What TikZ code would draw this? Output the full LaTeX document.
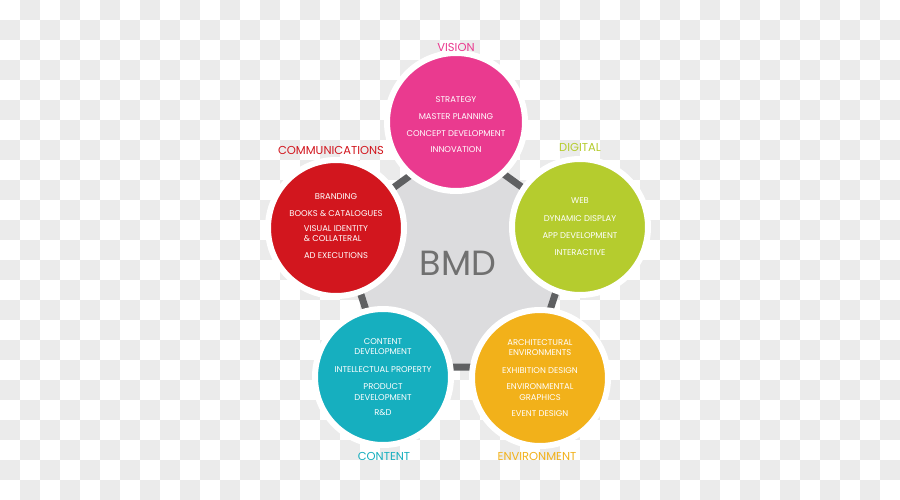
\documentclass[tikz,border=0pt]{standalone}
\usepackage{fontspec}
\setmainfont{Poppins}
\definecolor{checkgray}{HTML}{EBEBEB}
\definecolor{pentfill}{HTML}{DCDCDE}
\definecolor{edgegray}{HTML}{5F6062}
\definecolor{cpink}{HTML}{EA3A8F}
\definecolor{cgreen}{HTML}{B5CC2E}
\definecolor{cred}{HTML}{D2161E}
\definecolor{cteal}{HTML}{16AFBF}
\definecolor{corange}{HTML}{F2B11A}
\definecolor{bmdgray}{HTML}{707070}
\newcommand\innerfont{\fontsize{8.4}{10.5}\selectfont}
\newcommand\titlefont{\fontsize{11.5}{13}\selectfont}
\begin{document}
\begin{tikzpicture}[x=1pt,y=-1pt,
  bub/.style={circle, draw=white, line width=6pt, minimum size=136pt, inner sep=0pt,
    text=white, font=\innerfont, align=center},
  intext/.style={text=white, font=\innerfont, align=center, inner sep=0pt},
  ttl/.style={font=\titlefont, inner sep=0pt}]
\useasboundingbox (0,0) rectangle (900,500);
\clip (0,0) rectangle (900,500);
\fill[white] (0,0) rectangle (900,500);
\foreach \j in {0,...,24}{
  \pgfmathtruncatemacro\off{mod(\j+1,2)}
  \foreach \i in {0,...,22}{
    \fill[checkgray] (\off*20+\i*40,\j*20) rectangle ++(20,20);
  }
}
% pentagon
\coordinate (p1) at (458,141);
\coordinate (p2) at (577,227);
\coordinate (p3) at (531.5,367);
\coordinate (p4) at (384.5,367);
\coordinate (p5) at (339,227);
\draw[fill=pentfill, draw=edgegray, line width=7pt, line join=miter]
  (p1) -- (p2) -- (p3) -- (p4) -- (p5) -- cycle;
\node[font=\fontsize{35}{35}\selectfont, text=bmdgray, inner sep=0pt] (bmd) at (458,263) {BMD};
% circles
\node[bub, fill=cpink, minimum size=138pt] (vision) at (456,122) {};
\node[intext] (visiontext) at (456,125)
  {STRATEGY\\[6.2pt]MASTER PLANNING\\[6.2pt]CONCEPT DEVELOPMENT\\[6.2pt]INNOVATION};
\node[bub, fill=cgreen] (digital) at (580,227)
  {WEB\\[6.8pt]DYNAMIC DISPLAY\\[6.8pt]APP DEVELOPMENT\\[6.8pt]INTERACTIVE};
\node[bub, fill=cred] (comm) at (336,228) {};
\node[intext] (commtext) at (336,226)
  {BRANDING\\[7.2pt]BOOKS \& CATALOGUES\\[7.2pt]\shortstack[l]{VISUAL IDENTITY\\[1pt]\& COLLATERAL}\\[7.2pt]AD EXECUTIONS};
\node[bub, fill=cteal] (content) at (383,377)
  {CONTENT\\DEVELOPMENT\\[7pt]INTELLECTUAL PROPERTY\\[7pt]PRODUCT\\DEVELOPMENT\\[5pt]R\&D};
\node[bub, fill=corange] (env) at (540,378)
  {ARCHITECTURAL\\ENVIRONMENTS\\[7pt]EXHIBITION DESIGN\\[6pt]ENVIRONMENTAL\\GRAPHICS\\[6pt]EVENT DESIGN};
% titles
\node[ttl, text=cpink] (tvision) at (456,47) {VISION};
\node[ttl, text=cred] (tcomm) at (331,150) {COMMUNICATIONS};
\node[ttl, text=cgreen] (tdigital) at (580,147) {DIGITAL};
\node[ttl, text=cteal] (tcontent) at (384,456) {CONTENT};
\node[ttl, text=corange] (tenv) at (537,456) {ENVIRONMENT};
\end{tikzpicture}
\end{document}
